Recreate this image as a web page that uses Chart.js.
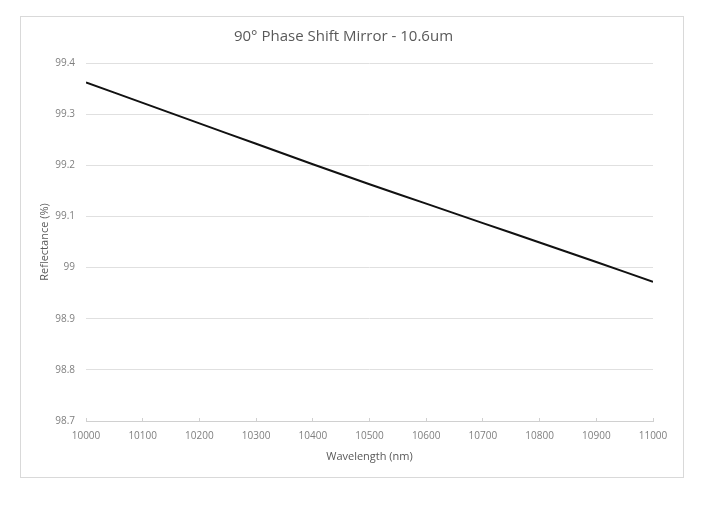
<!DOCTYPE html>
<html>
<head>
<meta charset="utf-8">
<script src="https://cdn.jsdelivr.net/npm/chart.js@4.4.1/dist/chart.umd.min.js"></script>
<style>
  html, body { margin: 0; padding: 0; background: #fff; }
  #box {
    position: absolute; left: 20px; top: 16px;
    width: 662px; height: 460px;
    border: 1px solid #d9d9d9;
  }
  #phaseChart { display: block; }
</style>
</head>
<body>
<div id="box"><canvas id="phaseChart" width="662" height="460"></canvas></div>
<script>
// wavelength (nm) and reflectance (%)
var wavelengths = [10000, 10100, 10200, 10300, 10400, 10500, 10600, 10700, 10800, 10900, 11000];
var reflectance = [99.362, 99.322, 99.282, 99.242, 99.202, 99.163, 99.125, 99.087, 99.049, 99.011, 98.972];

var points = wavelengths.map(function (w, i) { return { x: w, y: reflectance[i] }; });

var ctx = document.getElementById('phaseChart').getContext('2d');
var chart = new Chart(ctx, {
	type: 'line',
	data: {
		datasets: [{
			label: 'Reflectance',
			data: points,
			borderColor: '#111111',
			borderWidth: 2,
			pointRadius: 0,
			tension: 0.3,
			fill: false
		}]
	},
	options: {
		responsive: false,
		animation: false,
		layout: { padding: { left: 13, right: 30, top: 0, bottom: 10 } },
		plugins: {
			legend: { display: false },
			tooltip: { enabled: false },
			title: {
				display: true,
				text: '90\u00b0 Phase Shift Mirror - 10.6um',
				color: '#595959',
				font: { family: 'Open Sans', size: 15, weight: 'normal' },
				padding: { top: 11, bottom: 17 }
			}
		},
		scales: {
			x: {
				type: 'linear',
				min: 10000,
				max: 11000,
				ticks: {
					stepSize: 100,
					color: '#7f7f7f',
					font: { family: 'Open Sans', size: 10 },
					padding: 12,
					maxRotation: 0,
					callback: function (v) { return String(v); }
				},
				grid: {
					drawOnChartArea: false,
					tickLength: -3,
					tickColor: '#d0d0d0'
				},
				border: { color: '#d0d0d0', width: 1 },
				title: {
					display: true,
					text: 'Wavelength (nm)',
					color: '#595959',
					font: { family: 'Open Sans', size: 11 }
				},
				afterFit: function (scale) { scale.height = 46; }
			},
			y: {
				min: 98.7,
				max: 99.4,
				ticks: {
					stepSize: 0.1,
					color: '#7f7f7f',
					font: { family: 'Open Sans', size: 10 },
					padding: 11,
					callback: function (v) { return String(Number(v.toFixed(1))); }
				},
				grid: {
					color: '#e0e0e0',
					drawTicks: false
				},
				border: { display: false },
				title: {
					display: true,
					text: 'Reflectance (%)',
					color: '#595959',
					font: { family: 'Open Sans', size: 11 }
				},
				afterFit: function (scale) { scale.width = 52; }
			}
		}
	}
});
</script>
</body>
</html>
